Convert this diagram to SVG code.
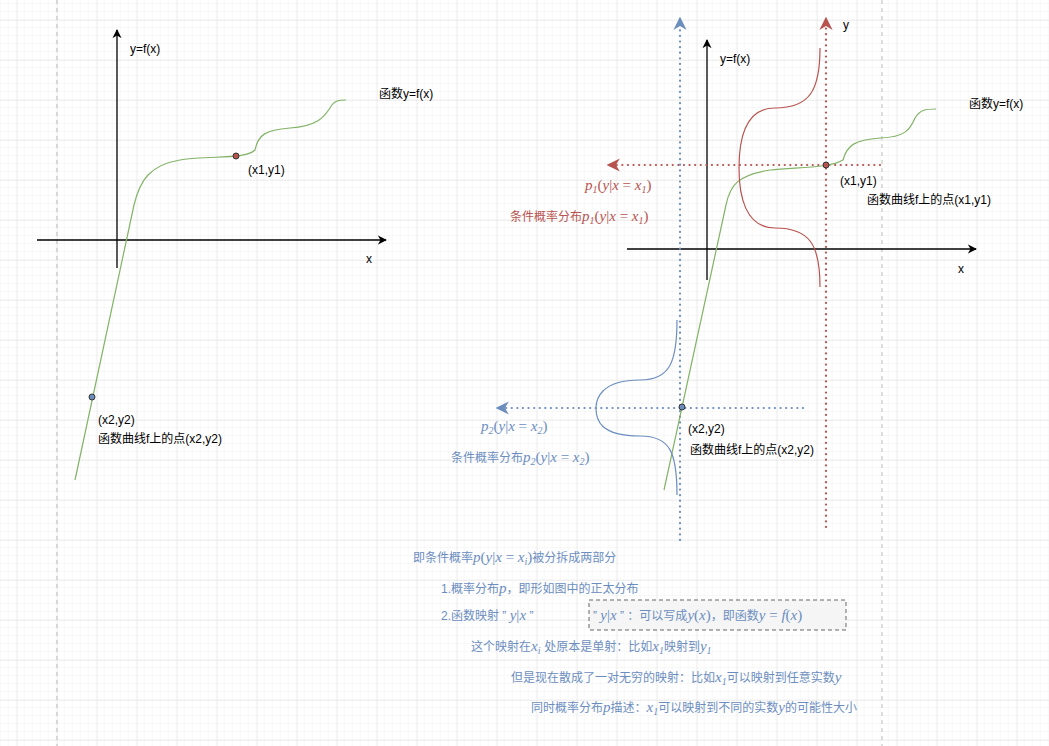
<svg xmlns="http://www.w3.org/2000/svg" width="1049" height="746" viewBox="0 0 1049 746">
<defs>
<pattern id="minor" x="0.7" y="4" width="8" height="8" patternUnits="userSpaceOnUse"><path d="M8 0V8M0 8H8" fill="none" stroke="#f0f0f0" stroke-width="1"/></pattern>
<pattern id="major" x="16.7" y="20" width="40" height="40" patternUnits="userSpaceOnUse"><path d="M0 0V40M0 0H40" fill="none" stroke="#e2e2e2" stroke-width="1"/></pattern>
<marker id="ak" viewBox="0 0 10 10" refX="9" refY="5" markerWidth="7" markerHeight="7" orient="auto"><path d="M0 0L10 5L0 10L3 5Z" fill="#000"/></marker>
<marker id="ar" viewBox="0 0 10 10" refX="9" refY="5" markerWidth="6" markerHeight="6" orient="auto"><path d="M0 0L10 5L0 10L3 5Z" fill="#b85450"/></marker>
<marker id="ab" viewBox="0 0 10 10" refX="9" refY="5" markerWidth="6" markerHeight="6" orient="auto"><path d="M0 0L10 5L0 10L3 5Z" fill="#6c8ebf"/></marker>
</defs>
<style>
text{font-family:"Liberation Sans","Noto Sans CJK SC",sans-serif;font-size:12px;fill:#000}
.b{fill:#6c8ebf}.r{fill:#b85450}
.m{font-family:"Liberation Serif","Noto Sans CJK SC",serif;font-style:italic;font-size:15px}
.ax{stroke:#000;stroke-width:1.3;fill:none;marker-end:url(#ak)}
.g{stroke:#82b366;fill:none;stroke-width:1.2}
.rd{stroke:#b85450;stroke-width:2.2;stroke-dasharray:0.1 5.5;stroke-linecap:round;fill:none;marker-end:url(#ar)}
.bd{stroke:#6c8ebf;stroke-width:2.2;stroke-dasharray:0.1 5.5;stroke-linecap:round;fill:none;marker-end:url(#ab)}
</style>
<rect width="1049" height="746" fill="#fff"/>
<rect width="1049" height="746" fill="url(#minor)"/>
<rect width="1049" height="746" fill="url(#major)"/>
<path d="M57 0V746M882 0V746" stroke="#bbb" stroke-dasharray="4 4" fill="none"/>

<g id="connectors">
<path class="ax" d="M117 268V30"/>
<path class="ax" d="M37 240H386"/>
<path class="ax" d="M707 280V40"/>
<path class="ax" d="M627 249H976"/>
<path class="rd" d="M826 527V18"/>
<path class="rd" d="M880 165H608"/>
<path class="bd" d="M680 540V18"/>
<path class="bd" d="M803 408H497"/>
</g>

<g id="curve-left"><path class="g" d="M75 480L134 205C140 180 150 165 180 160C210 155 245 160 255 150C258 135 265 130 290 128C320 126 325 115 330 108C334 100 340 100 346 100"/></g>
<g id="curve-right"><path class="g" d="M664 490L726 205C730 185 738 175 770 170C800 167 830 168 843 160C847 145 855 140 880 138C905 137 910 130 915 118C920 110 925 109 936 109"/></g>
<g id="bell-red"><path d="M820 48C820 90 810 108 775 108C745 108 739 140 739 168C739 195 745 228 775 228C810 228 820 245 820 287" stroke="#b85450" fill="none" stroke-width="1.2"/></g>
<g id="bell-blue"><path d="M677 320C677 362 670 380 640 380C600 380 596 400 596 408C596 420 600 436 640 436C670 436 677 452 677 495" stroke="#6c8ebf" fill="none" stroke-width="1.2"/></g>

<g id="pt-x1y1-left"><circle cx="236" cy="156" r="3" fill="#b85450" stroke="#333"/></g>
<g id="pt-x2y2-left"><circle cx="92" cy="397" r="3" fill="#6c8ebf" stroke="#333"/></g>
<g id="pt-x1y1-right"><circle cx="826" cy="165" r="3" fill="#b85450" stroke="#333"/></g>
<g id="pt-x2y2-right"><circle cx="682" cy="407" r="3" fill="#6c8ebf" stroke="#333"/></g>

<g id="labels-left">
<text x="130" y="53">y=f(x)</text>
<text x="379" y="98">函数y=f(x)</text>
<text x="248" y="174">(x1,y1)</text>
<text x="366" y="263">x</text>
<text x="98" y="424">(x2,y2)</text>
<text x="98" y="443">函数曲线f上的点(x2,y2)</text>
</g>
<g id="labels-right">
<text x="720" y="63">y=f(x)</text>
<text x="843" y="29">y</text>
<text x="969" y="108">函数y=f(x)</text>
<text x="840" y="185">(x1,y1)</text>
<text x="867" y="204">函数曲线f上的点(x1,y1)</text>
<text x="958" y="273">x</text>
<text x="688" y="433">(x2,y2)</text>
<text x="690" y="454">函数曲线f上的点(x2,y2)</text>
<text x="585" y="190" class="m r">p<tspan font-size="10" dy="3">1</tspan><tspan dy="-3" font-style="normal">(</tspan>y<tspan font-style="normal">|</tspan>x <tspan font-style="normal">= </tspan>x<tspan font-size="10" dy="3">1</tspan><tspan dy="-3" font-style="normal">)</tspan></text>
<text x="510" y="221" class="r">条件概率分布<tspan class="m r">p<tspan font-size="10" dy="3">1</tspan><tspan dy="-3" font-style="normal">(</tspan>y<tspan font-style="normal">|</tspan>x <tspan font-style="normal">= </tspan>x<tspan font-size="10" dy="3">1</tspan><tspan dy="-3" font-style="normal">)</tspan></tspan></text>
<text x="481" y="431" class="m b">p<tspan font-size="10" dy="3">2</tspan><tspan dy="-3" font-style="normal">(</tspan>y<tspan font-style="normal">|</tspan>x <tspan font-style="normal">= </tspan>x<tspan font-size="10" dy="3">2</tspan><tspan dy="-3" font-style="normal">)</tspan></text>
<text x="451" y="462" class="b">条件概率分布<tspan class="m b">p<tspan font-size="10" dy="3">2</tspan><tspan dy="-3" font-style="normal">(</tspan>y<tspan font-style="normal">|</tspan>x <tspan font-style="normal">= </tspan>x<tspan font-size="10" dy="3">2</tspan><tspan dy="-3" font-style="normal">)</tspan></tspan></text>
</g>

<g id="notes">
<text x="413" y="562" class="b">即条件概率<tspan class="m b">p<tspan font-style="normal">(</tspan>y<tspan font-style="normal">|</tspan>x <tspan font-style="normal">= </tspan>x<tspan font-size="10" dy="3">i</tspan><tspan dy="-3" font-style="normal">)</tspan></tspan>被分拆成两部分</text>
<text x="441" y="593" class="b">1.概率分布<tspan class="m b">p</tspan>，即形如图中的正太分布</text>
<text x="441" y="620" class="b">2.函数映射 ” <tspan class="m b">y<tspan font-style="normal">|</tspan>x</tspan> ”</text>
<g id="box"><rect x="589" y="600" width="257" height="30" fill="#f5f5f5" stroke="#666" stroke-dasharray="4 3"/>
<text x="593" y="620" class="b">” <tspan class="m b">y<tspan font-style="normal">|</tspan>x</tspan> ” ：可以写成<tspan class="m b">y<tspan font-style="normal">(</tspan>x<tspan font-style="normal">)</tspan></tspan>，即函数<tspan class="m b">y <tspan font-style="normal">= </tspan>f<tspan font-style="normal">(</tspan>x<tspan font-style="normal">)</tspan></tspan></text></g>
<text x="471" y="651" class="b">这个映射在<tspan class="m b">x<tspan font-size="10" dy="3">i</tspan><tspan dy="-3"> </tspan></tspan>处原本是单射：比如<tspan class="m b">x<tspan font-size="10" dy="3">1</tspan></tspan><tspan dy="-3">映射到</tspan><tspan class="m b">y<tspan font-size="10" dy="3">1</tspan></tspan></text>
<text x="511" y="682" class="b">但是现在散成了一对无穷的映射：比如<tspan class="m b">x<tspan font-size="10" dy="3">1</tspan></tspan><tspan dy="-3">可以映射到任意实数</tspan><tspan class="m b">y</tspan></text>
<text x="531" y="712" class="b">同时概率分布<tspan class="m b">p</tspan>描述：<tspan class="m b">x<tspan font-size="10" dy="3">1</tspan></tspan><tspan dy="-3">可以映射到不同的实数</tspan><tspan class="m b">y</tspan>的可能性大小</text>
</g>
</svg>
